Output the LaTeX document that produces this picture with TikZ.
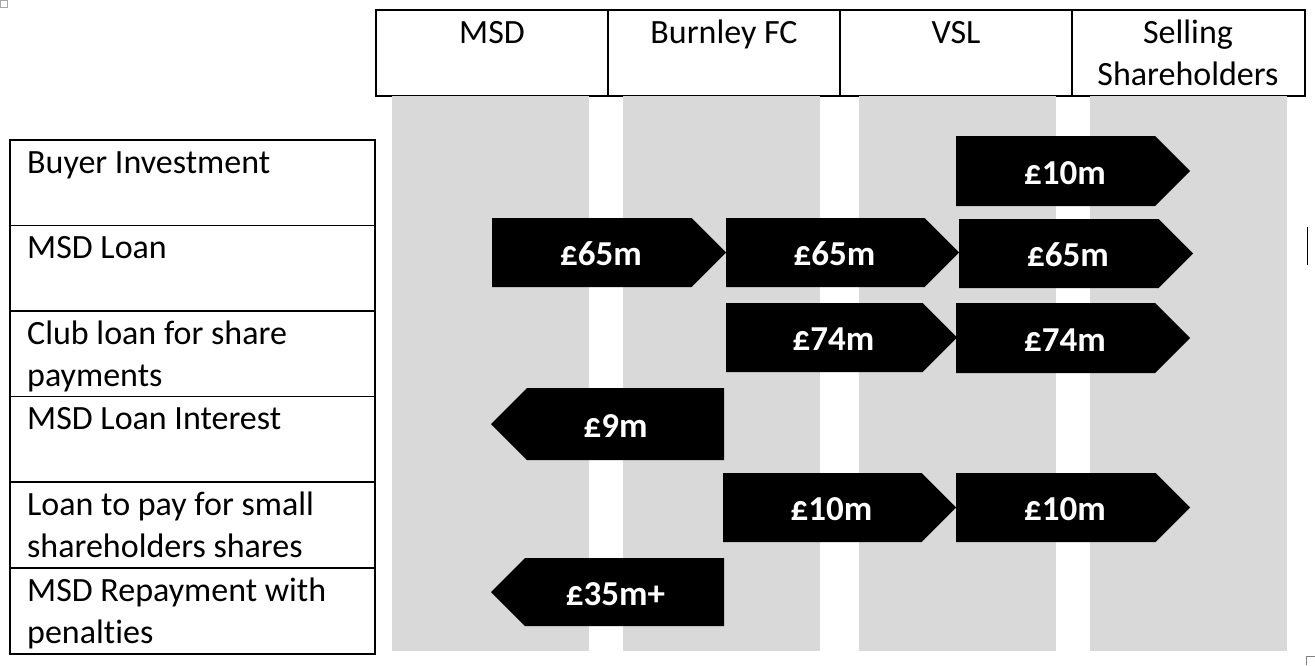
\documentclass[tikz,border=0pt]{standalone}
\usepackage{fontspec}
\setmainfont{Carlito}[Ligatures=NoCommon]
\definecolor{stripe}{HTML}{D9D9D9}
\tikzset{
  cell/.style={draw=black, line width=1.2pt},
  hdr/.style={font=\fontsize{34pt}{42pt}\selectfont, align=center, inner sep=0pt, anchor=base},
  rowlbl/.style={font=\fontsize{34pt}{42pt}\selectfont, align=left, inner sep=0pt, anchor=base west},
  amt/.style={font=\fontsize{35pt}{42pt}\selectfont\bfseries, text=white, inner sep=0pt, anchor=base},
  flow/.style={fill=black},
  band/.style={fill=stripe}
}
\newcommand{\flowRight}[6]{% name, left, tip, top, bottom, label
  \fill[flow] (#2,#4) -- ({#3-(#5-#4)/2},#4) -- (#3,{(#4+#5)/2}) -- ({#3-(#5-#4)/2},#5) -- (#2,#5) -- cycle;
  \node[amt] (#1) at ({(#2+#3)/2-8},{(#4+#5)/2+13}) {#6};
}
\newcommand{\flowLeft}[6]{% name, tip, right, top, bottom, label
  \fill[flow] (#3,#4) -- ({#2+(#5-#4)/2},#4) -- (#2,{(#4+#5)/2}) -- ({#2+(#5-#4)/2},#5) -- (#3,#5) -- cycle;
  \node[amt] (#1) at ({(#2+#3)/2+8},{(#4+#5)/2+13}) {#6};
}
\begin{document}
\begin{tikzpicture}[x=1pt,y=-1pt]
\useasboundingbox (0,0) rectangle (1315,665);
% header
\draw[cell] (376,10) rectangle (1305,96);
\draw[cell] (608,10) -- (608,96);
\draw[cell] (840,10) -- (840,96);
\draw[cell] (1072,10) -- (1072,96);
\node[hdr] (hmsd) at (492,43) {MSD};
\node[hdr] (hbfc) at (724,43) {Burnley FC};
\node[hdr] (hvsl) at (956,43) {VSL};
\node[hdr] (hsell) at (1188,85) {Selling\\Shareholders};
% bands
\fill[band] (392,96) rectangle (589,651);
\fill[band] (623,96) rectangle (820,651);
\fill[band] (859,96) rectangle (1056,651);
\fill[band] (1090,96) rectangle (1287,651);
% row table
\draw[cell] (10,140) rectangle (375,654);
\foreach \yy in {225.5,311,396.5,482,568} \draw[cell] (10,\yy) -- (375,\yy);
\node[rowlbl] (r1) at (27,173) {Buyer Investment};
\node[rowlbl] (r2) at (27,258.5) {MSD Loan};
\node[rowlbl] (r3) at (27,386) {Club loan for share\\payments};
\node[rowlbl] (r4) at (27,429.5) {MSD Loan Interest};
\node[rowlbl] (r5) at (27,557) {Loan to pay for small\\shareholders shares};
\node[rowlbl] (r6) at (27,643) {MSD Repayment with\\penalties};
% flows
\flowRight{a1}{956}{1190}{136}{206}{£10m}
\flowRight{a2}{492}{726}{218}{287}{£65m}
\flowRight{a3}{726}{959}{218}{287}{£65m}
\flowRight{a4}{959}{1193}{219}{288}{£65m}
\flowRight{a5}{726}{957}{303}{372}{£74m}
\flowRight{a6}{956}{1190}{303}{373}{£74m}
\flowLeft{a7}{491}{724}{388}{460}{£9m}
\flowRight{a8}{723}{956}{473}{542}{£10m}
\flowRight{a9}{956}{1190}{473}{542}{£10m}
\flowLeft{a10}{491}{724}{558}{626}{£35m+}
% small marks
\draw[line width=1pt] (1307,227) -- (1307,265);
\draw[gray, line width=0.8pt] (1306,665) -- (1306,656) -- (1315,656);
\draw[gray!70, line width=0.8pt] (0.5,0.5) rectangle (7.5,7.5);
\end{tikzpicture}
\end{document}
